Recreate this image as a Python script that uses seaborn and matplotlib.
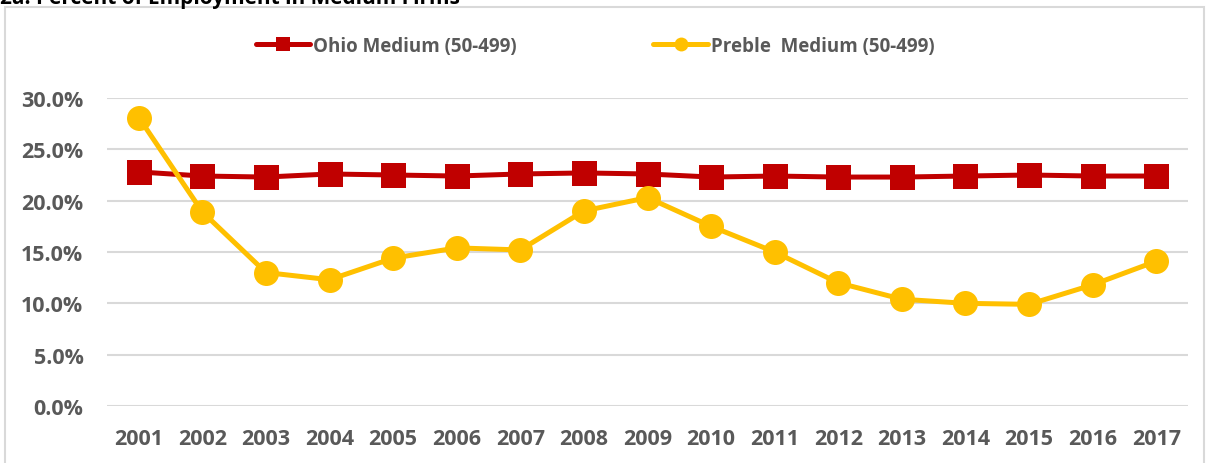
import matplotlib
matplotlib.use("Agg")
import matplotlib.pyplot as plt
import seaborn as sns
import pandas as pd
from matplotlib.ticker import PercentFormatter
from matplotlib.lines import Line2D
from matplotlib.patches import Rectangle

years = [str(y) for y in range(2001, 2018)]
ohio = [22.8, 22.4, 22.3, 22.6, 22.5, 22.4, 22.6, 22.7, 22.6, 22.3, 22.4,
        22.3, 22.3, 22.4, 22.5, 22.4, 22.4]
preble = [28.1, 18.9, 13.0, 12.3, 14.4, 15.4, 15.2, 19.0, 20.3, 17.5, 15.0,
          12.0, 10.4, 10.0, 9.9, 11.8, 14.1]
series_names = ["Ohio Medium (50-499)", "Preble  Medium (50-499)"]
title_text = "2a. Percent of Employment in Medium Firms"
yticks = [0, 5, 10, 15, 20, 25, 30]

RED = "#C00000"
GOLD = "#FFC000"
GRAY = "#595959"

sns.set_theme(style="white")
plt.rcParams["font.family"] = ["Open Sans", "DejaVu Sans"]

fig = plt.figure(figsize=(12.07, 4.64), dpi=100)
ax = fig.add_axes([107/1207, 1-407/464, (1188-107)/1207, (407-99)/464])

df = pd.DataFrame({"year": years, "ohio": ohio, "preble": preble})
sns.lineplot(data=df, x="year", y="ohio", ax=ax, color=RED, linewidth=3.6,
             marker="s", markersize=18, markeredgewidth=0, sort=False, zorder=3)
sns.lineplot(data=df, x="year", y="preble", ax=ax, color=GOLD, linewidth=3.6,
             marker="o", markersize=18, markeredgewidth=0, sort=False, zorder=4)

ax.set_xlim(-0.5, len(years) - 0.5)
ax.set_ylim(0, 30)
ax.set_yticks(yticks)
ax.yaxis.set_major_formatter(PercentFormatter(decimals=1))
ax.grid(axis="y", color="#D9D9D9", linewidth=1.5)
ax.set_axisbelow(True)
for s in ax.spines.values():
    s.set_visible(False)
ax.set_xlabel("")
ax.set_ylabel("")
ax.tick_params(axis="both", length=0, labelsize=15.5, colors=GRAY)
ax.tick_params(axis="x", pad=16)
ax.tick_params(axis="y", pad=17)
for lbl in ax.get_xticklabels() + ax.get_yticklabels():
    lbl.set_fontweight("bold")
for line in ax.lines:
    line.set_clip_on(False)

handles = [
    Line2D([], [], color=RED, linewidth=3.6, marker="s", markersize=10, markeredgewidth=0),
    Line2D([], [], color=GOLD, linewidth=3.6, marker="o", markersize=10, markeredgewidth=0),
]
leg = fig.legend(handles, series_names, loc="center", bbox_to_anchor=(0.493, 1-47/464),
                 ncol=2, frameon=False, handlelength=2.9, handletextpad=0.15,
                 columnspacing=7.3, prop={"weight": "bold", "size": 13.5})
for t in leg.get_texts():
    t.set_color(GRAY)

fig.patches.append(Rectangle((5/1207, -0.05), (1204-5)/1207, 1.05-8/464,
                             transform=fig.transFigure, fill=False,
                             edgecolor="#D9D9D9", linewidth=1.5))
fig.text(0.0, 1-4/464, title_text, ha="left", va="baseline", fontsize=15,
         fontweight="bold", color="black")

fig.savefig("out.png", dpi=100)
